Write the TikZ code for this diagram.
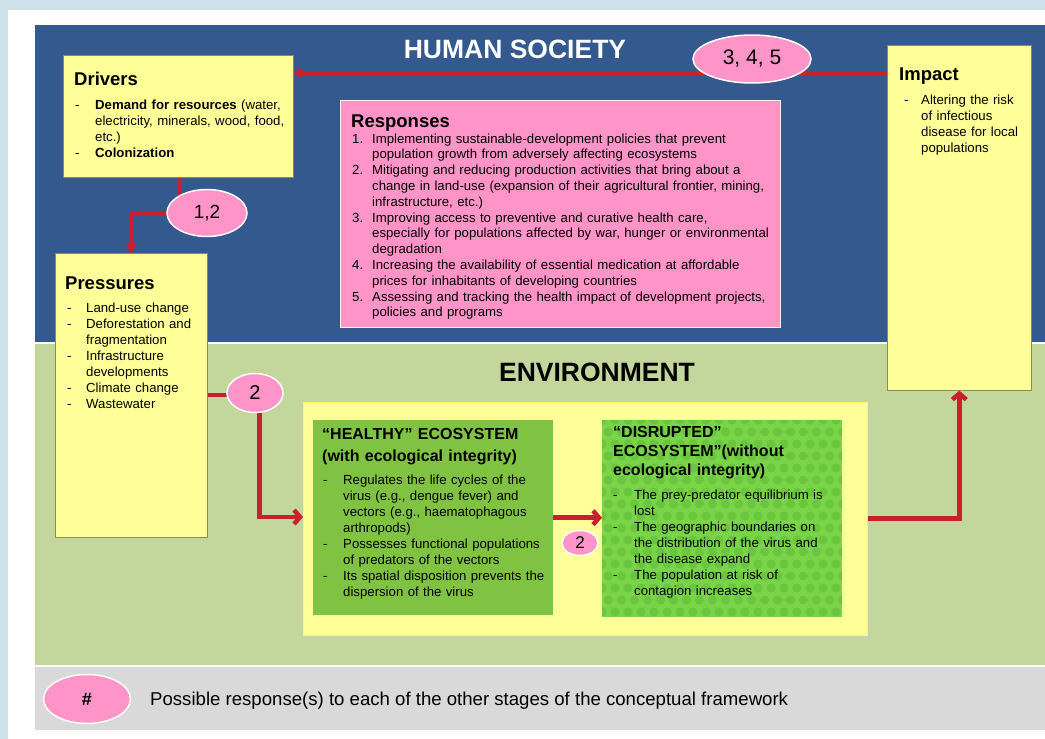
\documentclass[tikz,border=0pt]{standalone}
\usepackage{fontspec}
\setmainfont{Liberation Sans}
\usetikzlibrary{shapes.geometric,arrows.meta,calc}
\definecolor{outerblue}{HTML}{CDE1E8}
\definecolor{socblue}{HTML}{34598F}
\definecolor{envgreen}{HTML}{C3D69B}
\definecolor{keygray}{HTML}{D9D9D9}
\definecolor{paleyellow}{HTML}{FFFF99}
\definecolor{boxedge}{HTML}{8C8C5A}
\definecolor{pinkfill}{HTML}{FF94C9}
\definecolor{healthygreen}{HTML}{80C342}
\definecolor{brightgreen}{HTML}{7AD447}
\definecolor{dotgreen}{HTML}{4FAE2F}
\definecolor{arrowred}{HTML}{C8202C}
\newcommand\itm[3][20pt]{\noindent\hangindent=#1\hangafter=1\makebox[#1][l]{#2}#3\par}
\newcommand\bul[2][20pt]{\itm[#1]{-}{#2}}
\begin{document}
\begin{tikzpicture}[x=1pt,y=-1pt,
  ybox/.style={rectangle,anchor=north west,inner sep=0pt,fill=paleyellow,draw=boxedge,line width=0.6pt},
  pbox/.style={rectangle,anchor=north west,inner sep=0pt,fill=pinkfill,draw=white!85!pinkfill,line width=1pt},
  cbox/.style={rectangle,anchor=north west,inner sep=0pt,fill=paleyellow,draw=yellow!60!white,line width=1pt},
  gbox/.style={rectangle,anchor=north west,inner sep=0pt,fill=healthygreen},
  dbox/.style={rectangle,anchor=north west,inner sep=0pt,fill=brightgreen},
  ttl/.style={anchor=base west,inner sep=0pt,font=\fontsize{18.5}{20}\selectfont\bfseries},
  txt/.style={anchor=base west,inner sep=0pt,text width=440pt,align=left,font=\fontsize{13.2}{16}\selectfont},
  head/.style={inner sep=0pt,font=\fontsize{26.5}{27}\selectfont\bfseries},
  ell/.style={ellipse,inner sep=0pt,fill=pinkfill,draw=white,line width=1.5pt},
  rl/.style={draw=arrowred,line width=4.5pt},
  blob/.style={-{Latex[length=11pt,width=12pt,round]}},
  openarr/.style={-{Straight Barb[length=6pt,width=14pt]}}]
\useasboundingbox (0,0) rectangle (1045,739);
% backgrounds
\fill[outerblue] (0,0) rectangle (1045,739);
\fill[white] (8,10) rectangle (1045,739);
\fill[socblue] (35,25) rectangle (1045,342);
\fill[envgreen] (35,344) rectangle (1045,665);
\fill[keygray] (35,667) rectangle (1045,730);
% boxes
\node[ybox,minimum width=230pt,minimum height=122pt] (drivers) at (63,55) {};
\node[ybox,minimum width=152pt,minimum height=284pt] (pressures) at (55,253) {};
\node[ybox,minimum width=144pt,minimum height=345pt] (impact) at (887,45) {};
\node[pbox,minimum width=440pt,minimum height=227pt] (responses) at (340,100) {};
\node[cbox,minimum width=564pt,minimum height=233pt] (container) at (303,402) {};
\node[gbox,minimum width=240pt,minimum height=195pt] (healthy) at (313,420) {};
\node[dbox,minimum width=240pt,minimum height=197pt] (disrupted) at (602,420) {};
\begin{scope}
  \clip (602,420) rectangle (842,617);
  \foreach \j in {0,...,17}{
    \foreach \i in {0,...,19}{
      \fill[dotgreen,opacity=0.35] ({602+\i*13+mod(\j,2)*6.5},{420+\j*12}) circle (4.6);
    }
  }
\end{scope}
% headings
\node[head,text=white] (hs) at (515,49) {HUMAN SOCIETY};
\node[head,text=black] (env) at (597,372) {ENVIRONMENT};
% Drivers
\node[ttl] (drivers-t) at (74,85) {Drivers};
\node[txt] (drivers-b) at (75,109) {\bul{\textbf{Demand for resources} (water,\newline electricity, minerals, wood, food,\newline etc.)}\bul{\textbf{Colonization}}};
% Responses
\node[ttl] (responses-t) at (351,127) {Responses};
\node[txt,font=\fontsize{13.2}{15.8}\selectfont] (responses-b) at (352,143) {%
\itm{1.}{Implementing sustainable-development policies that prevent\newline population growth from adversely affecting ecosystems}%
\itm{2.}{Mitigating and reducing production activities that bring about a\newline change in land-use (expansion of their agricultural frontier, mining,\newline infrastructure, etc.)}%
\itm{3.}{Improving access to preventive and curative health care,\newline especially for populations affected by war, hunger or environmental\newline degradation}%
\itm{4.}{Increasing the availability of essential medication at affordable\newline prices for inhabitants of developing countries}%
\itm{5.}{Assessing and tracking the health impact of development projects,\newline policies and programs}};
% Impact
\node[ttl] (impact-t) at (899,80) {Impact};
\node[txt] (impact-b) at (904,104) {\bul[17pt]{Altering the risk\newline of infectious\newline disease for local\newline populations}};
% Pressures
\node[ttl] (pressures-t) at (65,289) {Pressures};
\node[txt] (pressures-b) at (67,312) {\bul[19pt]{Land-use change}\bul[19pt]{Deforestation and\newline fragmentation}\bul[19pt]{Infrastructure\newline developments}\bul[19pt]{Climate change}\bul[19pt]{Wastewater}};
% Healthy
\node[txt,font=\fontsize{16}{22}\selectfont\bfseries] (healthy-t) at (322,439) {“HEALTHY” ECOSYSTEM\newline (with ecological integrity)};
\node[txt] (healthy-b) at (323,484) {\bul{Regulates the life cycles of the\newline virus (e.g., dengue fever) and\newline vectors (e.g., haematophagous\newline arthropods)}\bul{Possesses functional populations\newline of predators of the vectors}\bul{Its spatial disposition prevents the\newline dispersion of the virus}};
% Disrupted
\node[txt,font=\fontsize{16}{19}\selectfont\bfseries] (disrupted-t) at (613,437) {“DISRUPTED”\newline ECOSYSTEM”(without\newline ecological integrity)};
\node[txt] (disrupted-b) at (613,499) {\bul[21pt]{The prey-predator equilibrium is\newline lost}\bul[21pt]{The geographic boundaries on\newline the distribution of the virus and\newline the disease expand}\bul[21pt]{The population at risk of\newline contagion increases}};
% legend text
\node[anchor=base west,inner sep=0pt,font=\fontsize{18.6}{20}\selectfont] (key-t) at (150,705) {Possible response(s) to each of the other stages of the conceptual framework};
% connectors
\draw[rl,blob] ($(impact.north west)+(0,28)$) -- ($(drivers.north east)+(0,18)$);
\draw[rl,blob] ($(drivers.south west)+(116,0)$) |- ($(pressures.north west)+(76,-40)$) -- ($(pressures.north west)+(76,0)$);
\draw[rl,openarr] ($(pressures.north east)+(0,142)$) -- ++(52,0) |- ($(container.north west)+(0,115)$);
\draw[rl,openarr] (healthy.east) -- (healthy.east -| disrupted.west);
\draw[rl,openarr] (container.east |- disrupted.east) -| (impact.south);
% ellipses
\node[ell,minimum width=118pt,minimum height=48pt,font=\fontsize{21}{21}\selectfont] (e345) at (752,59) {3, 4, 5};
\node[ell,minimum width=80pt,minimum height=47pt,font=\fontsize{19}{19}\selectfont] (e12) at (207,213) {1,2};
\node[ell,minimum width=56pt,minimum height=39pt,font=\fontsize{20}{20}\selectfont] (e2a) at (255,393) {2};
\node[ell,minimum width=36pt,minimum height=25pt,font=\fontsize{17}{17}\selectfont] (e2b) at (580,543) {2};
\node[ell,minimum width=87pt,minimum height=49pt,font=\fontsize{18}{18}\selectfont\bfseries] (ekey) at (87,699) {\#};
\end{tikzpicture}
\end{document}
